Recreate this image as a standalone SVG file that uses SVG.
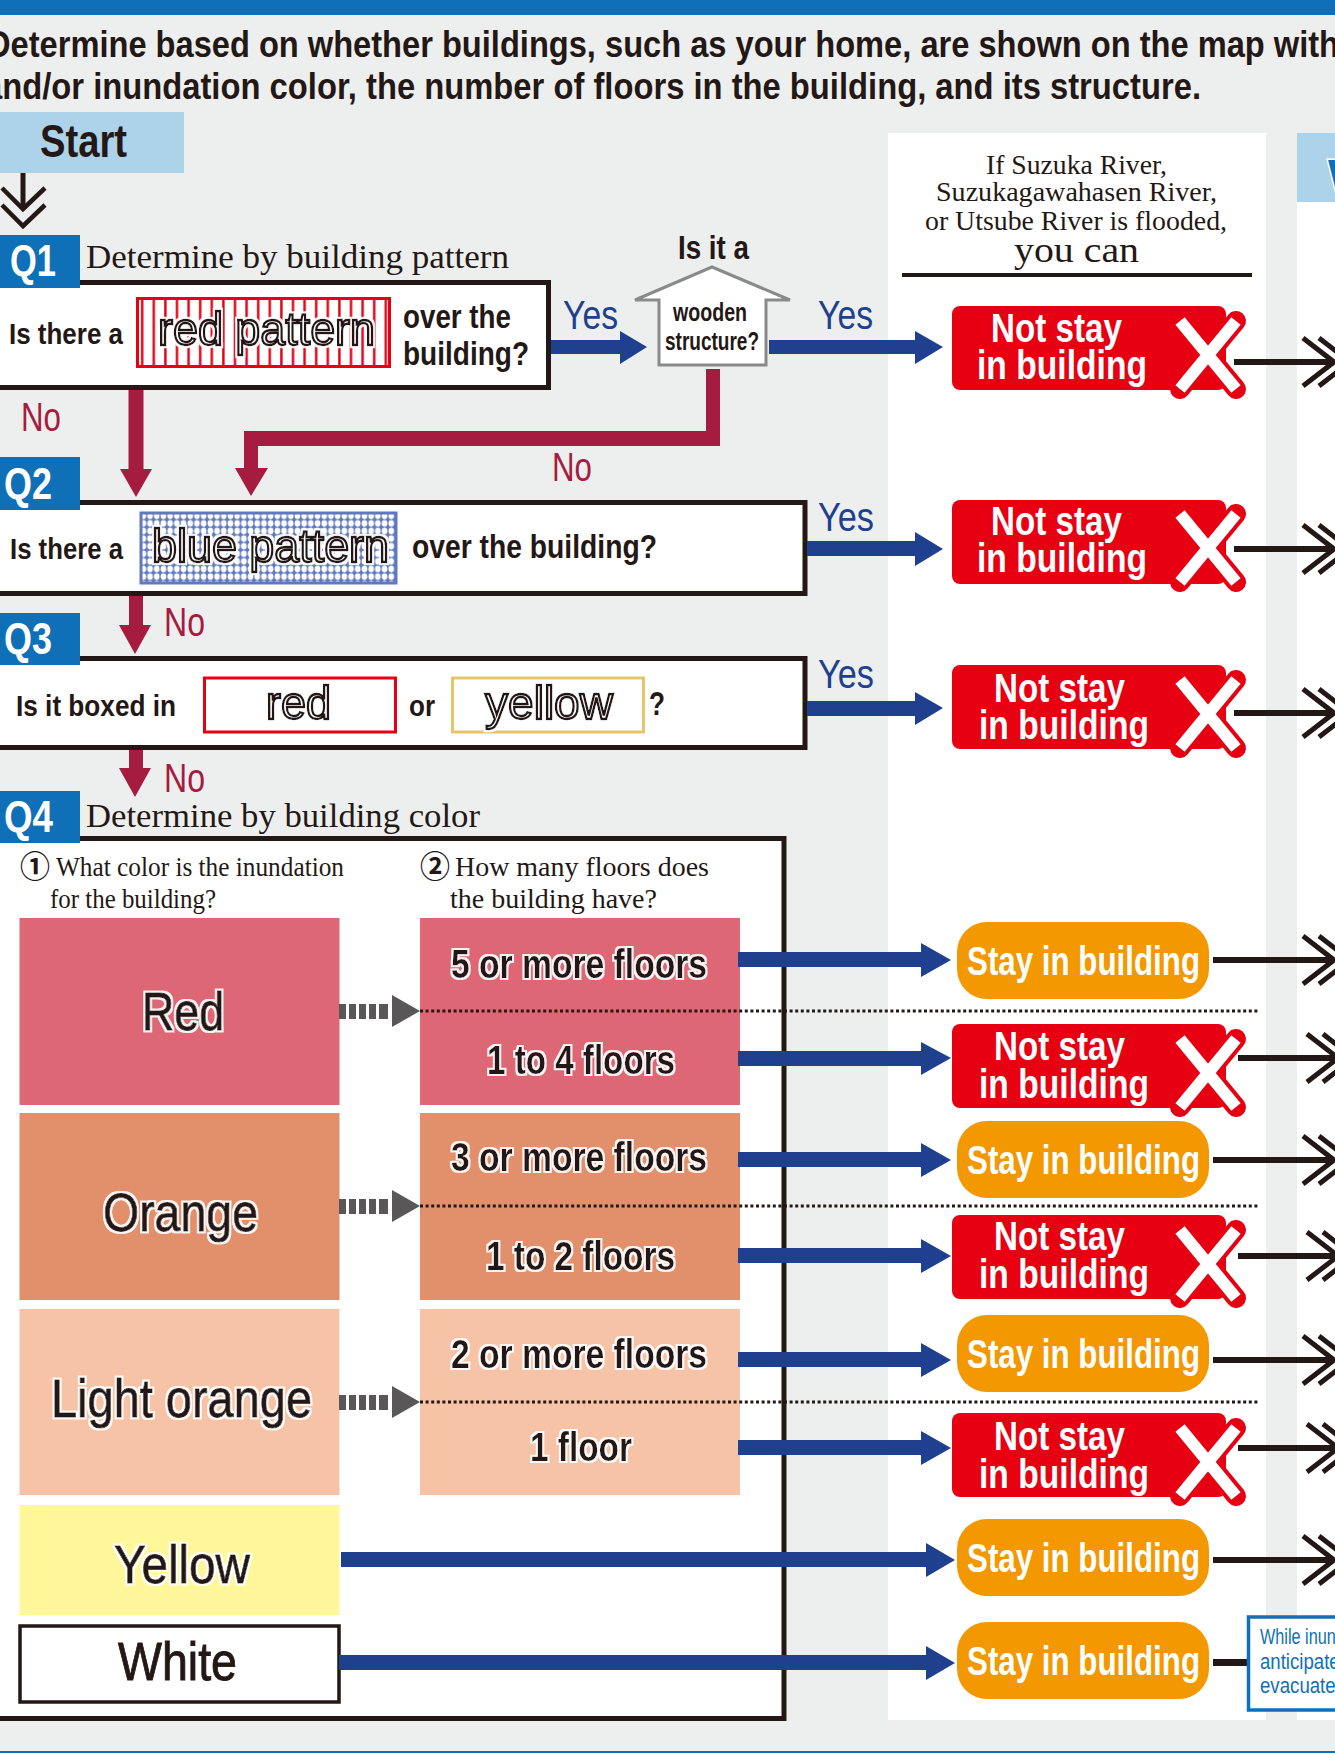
<svg xmlns="http://www.w3.org/2000/svg" xmlns:xlink="http://www.w3.org/1999/xlink" width="1335" height="1753" viewBox="0 0 1335 1753">
<style>
text{font-family:"Liberation Sans",Arial,sans-serif;fill:#231815}
.b{font-weight:bold}
.s{font-family:"Liberation Serif","Times New Roman",serif}
.q{font-weight:bold;fill:#fff;font-size:44px}
.box{fill:#fff;stroke:#231815;stroke-width:5}
.qb{fill:#0f70b7}
.yes{fill:#1f3f8f;font-size:41px}
.no{fill:#a51c40;font-size:41px}
.w{font-weight:bold;fill:#fff;font-size:41px}
.out{fill:#fff;stroke:#231815;stroke-width:2.4;font-size:47px;filter:url(#halo)}
.halo{fill:#231815;filter:url(#halo)}
.thick{stroke:#231815;stroke-width:.9}
.nb{fill:#e60012}
.pill{fill:#f39800}
.blue{fill:#1f3f8f}
.crim{fill:#a51c40}
.gr{fill:#595757}
.dot{stroke:#231815;stroke-width:3;stroke-dasharray:3 2.6;fill:none}
</style>
<defs>
<filter id="halo" x="-10%" y="-20%" width="120%" height="140%">
<feMorphology in="SourceAlpha" operator="dilate" radius="1.6" result="d"/>
<feGaussianBlur in="d" stdDeviation=".5" result="g"/>
<feFlood flood-color="#fff" flood-opacity=".9"/>
<feComposite in2="g" operator="in" result="h"/>
<feMerge><feMergeNode in="h"/><feMergeNode in="SourceGraphic"/></feMerge>
</filter>
<pattern id="redp" width="11.6" height="10" patternUnits="userSpaceOnUse" x="136"><rect width="11.6" height="10" fill="#fff"/><rect x="5" width="2.4" height="10" fill="#e60012"/></pattern>
<pattern id="bluep" width="6.7" height="7.6" patternUnits="userSpaceOnUse" x="140" y="512"><rect width="6.7" height="7.6" fill="#5f78c0"/><ellipse cx="3.35" cy="3.8" rx="2.8" ry="3.3" fill="#fff"/></pattern>
<g id="xm"><path d="M-28-34L28 34M28-34L-28 34" fill="none" stroke="#e60012" stroke-width="20" stroke-linejoin="round" stroke-linecap="round"/><path d="M-28-34L28 34M28-34L-28 34" fill="none" stroke="#fff" stroke-width="12"/></g>
<g id="chev"><rect y="-3" width="98" height="6" fill="#231815"/><path d="M69-24L100 0L69 24M85-24L116 0L85 24" fill="none" stroke="#231815" stroke-width="5"/></g>
</defs>
<rect width="1335" height="1753" fill="#edefee"/>
<rect width="1335" height="15" fill="#0f70b7"/>
<rect y="1751" width="1335" height="2" fill="#0f70b7"/>
<g id="intro">
<text class="b" x="-13" y="57" font-size="37" textLength="1352" lengthAdjust="spacingAndGlyphs">Determine based on whether buildings, such as your home, are shown on the map with</text>
<text class="b" x="-16" y="99" font-size="37" textLength="1217" lengthAdjust="spacingAndGlyphs">and/or inundation color, the number of floors in the building, and its structure.</text>
</g>
<g id="panels">
<rect x="888" y="133" width="378" height="1587" fill="#fff"/>
<rect x="1297" y="202" width="38" height="1518" fill="#fff"/>
<rect x="1297" y="133" width="38" height="69" fill="#acd3e9"/>
<text class="b" x="1328" y="192" font-size="46" style="fill:#0f70b7;stroke:#fff;stroke-width:3;paint-order:stroke">W</text>
<text class="s" x="986" y="174" font-size="28" textLength="181" lengthAdjust="spacingAndGlyphs">If Suzuka River,</text>
<text class="s" x="936" y="201" font-size="28" textLength="281" lengthAdjust="spacingAndGlyphs">Suzukagawahasen River,</text>
<text class="s" x="925" y="230" font-size="28" textLength="302" lengthAdjust="spacingAndGlyphs">or Utsube River is flooded,</text>
<text class="s" x="1014" y="262" font-size="36" textLength="125" lengthAdjust="spacingAndGlyphs">you can</text>
<rect x="902" y="273" width="350" height="4" fill="#231815"/>
</g>
<g id="start"><rect x="-1" y="112" width="185" height="61" fill="#acd3e9"/><text class="b" x="40" y="157" font-size="46" textLength="87" lengthAdjust="spacingAndGlyphs">Start</text></g>
<g id="q1">
<rect class="box" x="-6" y="282.500" width="554.500" height="105"/>
<rect class="qb" y="235" width="80" height="53"/>
<text class="q" x="10" y="276" textLength="46" lengthAdjust="spacingAndGlyphs">Q1</text>
<text class="s" x="86" y="268" font-size="33" textLength="423" lengthAdjust="spacingAndGlyphs">Determine by building pattern</text>
<text class="b" x="9" y="344" font-size="30" textLength="114" lengthAdjust="spacingAndGlyphs">Is there a</text>
<rect x="137.500" y="298.500" width="252" height="68" fill="url(#redp)" stroke="#e60012" stroke-width="3"/>
<text class="out" x="158" y="345" textLength="217" lengthAdjust="spacingAndGlyphs">red pattern</text>
<text class="b" x="403" y="328" font-size="33" textLength="108" lengthAdjust="spacingAndGlyphs">over the</text>
<text class="b" x="403" y="365" font-size="33" textLength="126" lengthAdjust="spacingAndGlyphs">building?</text>
</g>
<g id="wooden">
<path d="M712 267L790 300H766V365H659V300H635Z" fill="#fff" stroke="#8a8a8a" stroke-width="3"/>
<text class="b" x="678" y="259" font-size="33" textLength="71" lengthAdjust="spacingAndGlyphs">Is it a</text>
<text class="b" x="673" y="321" font-size="25" textLength="74" lengthAdjust="spacingAndGlyphs">wooden</text>
<text class="b" x="665" y="350" font-size="25" textLength="94" lengthAdjust="spacingAndGlyphs">structure?</text>
</g>
<g id="q2">
<rect class="box" x="-6" y="502.500" width="811" height="91"/>
<rect class="qb" y="457" width="80" height="53"/>
<text class="q" x="4" y="499" textLength="48" lengthAdjust="spacingAndGlyphs">Q2</text>
<text class="b" x="10" y="559" font-size="30" textLength="113" lengthAdjust="spacingAndGlyphs">Is there a</text>
<rect x="141" y="513" width="255" height="70" fill="url(#bluep)" stroke="#5f78c0" stroke-width="3"/>
<text class="out" x="152" y="562" textLength="237" lengthAdjust="spacingAndGlyphs">blue pattern</text>
<text class="b" x="412" y="558" font-size="33" textLength="245" lengthAdjust="spacingAndGlyphs">over the building?</text>
</g>
<g id="q3">
<rect class="box" x="-6" y="658.500" width="811" height="89"/>
<rect class="qb" y="613" width="80" height="52"/>
<text class="q" x="4" y="654" textLength="48" lengthAdjust="spacingAndGlyphs">Q3</text>
<text class="b" x="16" y="716" font-size="30" textLength="160" lengthAdjust="spacingAndGlyphs">Is it boxed in</text>
<rect x="204.500" y="678" width="191" height="54" fill="#fff" stroke="#e60012" stroke-width="3"/>
<text class="out" x="266" y="719" textLength="65" lengthAdjust="spacingAndGlyphs">red</text>
<text class="b" x="409" y="716" font-size="30" textLength="26" lengthAdjust="spacingAndGlyphs">or</text>
<rect x="452.500" y="678" width="191" height="54" fill="#fff" stroke="#e8c468" stroke-width="3"/>
<text class="out" x="485" y="719" textLength="128" lengthAdjust="spacingAndGlyphs">yellow</text>
<text class="b" x="649" y="715" font-size="33" textLength="16" lengthAdjust="spacingAndGlyphs">?</text>
</g>
<g id="q4">
<rect class="box" x="-6" y="838.500" width="790" height="880"/>
<rect class="qb" y="791" width="80" height="52"/>
<text class="q" x="4" y="832" textLength="49" lengthAdjust="spacingAndGlyphs">Q4</text>
<text class="s" x="86" y="827" font-size="33" textLength="394" lengthAdjust="spacingAndGlyphs">Determine by building color</text>
<text x="20" y="877" font-size="30" style="font-family:'Noto Sans CJK JP','DejaVu Sans',sans-serif;font-weight:bold">①</text>
<text class="s" x="56" y="876" font-size="27" textLength="288" lengthAdjust="spacingAndGlyphs">What color is the inundation</text>
<text class="s" x="50" y="908" font-size="27" textLength="166" lengthAdjust="spacingAndGlyphs">for the building?</text>
<text x="420" y="877" font-size="30" style="font-family:'Noto Sans CJK JP','DejaVu Sans',sans-serif;font-weight:bold">②</text>
<text class="s" x="455" y="876" font-size="27" textLength="254" lengthAdjust="spacingAndGlyphs">How many floors does</text>
<text class="s" x="450" y="908" font-size="27" textLength="207" lengthAdjust="spacingAndGlyphs">the building have?</text>
</g>
<g id="red">
<rect x="19.500" y="918" width="320" height="187" fill="#dd6775"/>
<rect x="420" y="918" width="320" height="187" fill="#dd6775"/>
<text class="halo thick" x="142" y="1030" font-size="54" textLength="82" lengthAdjust="spacingAndGlyphs">Red</text>
<text class="halo b" x="451" y="978" font-size="40" textLength="256" lengthAdjust="spacingAndGlyphs">5 or more floors</text>
<text class="halo b" x="487" y="1074" font-size="40" textLength="188" lengthAdjust="spacingAndGlyphs">1 to 4 floors</text>
</g>
<g id="orange">
<rect x="19.500" y="1113" width="320" height="187" fill="#e28f6c"/>
<rect x="420" y="1113" width="320" height="187" fill="#e28f6c"/>
<text class="halo thick" x="103" y="1231" font-size="54" textLength="155" lengthAdjust="spacingAndGlyphs">Orange</text>
<text class="halo b" x="451" y="1171" font-size="40" textLength="256" lengthAdjust="spacingAndGlyphs">3 or more floors</text>
<text class="halo b" x="486" y="1270" font-size="40" textLength="189" lengthAdjust="spacingAndGlyphs">1 to 2 floors</text>
</g>
<g id="lightorange">
<rect x="19.500" y="1309" width="320" height="186" fill="#f7c3a7"/>
<rect x="420" y="1309" width="320" height="186" fill="#f7c3a7"/>
<text class="halo thick" x="51" y="1417" font-size="54" textLength="261" lengthAdjust="spacingAndGlyphs">Light orange</text>
<text class="halo b" x="451" y="1368" font-size="40" textLength="256" lengthAdjust="spacingAndGlyphs">2 or more floors</text>
<text class="halo b" x="530" y="1461" font-size="40" textLength="102" lengthAdjust="spacingAndGlyphs">1 floor</text>
</g>
<g id="yellow"><rect x="19.500" y="1505" width="320" height="110" fill="#fff799"/><text class="halo thick" x="114" y="1583" font-size="54" textLength="136" lengthAdjust="spacingAndGlyphs">Yellow</text></g>
<g id="white"><rect x="20" y="1626" width="319" height="76" fill="#fff" stroke="#231815" stroke-width="3.500"/><text class="thick" x="118" y="1680" font-size="54" textLength="119" lengthAdjust="spacingAndGlyphs">White</text></g>
<g id="connectors">
<path fill="#231815" d="M20.500 173h5v36h-5z"/>
<path d="M2 188L23 209L45 188M2 205L23 226L45 205" fill="none" stroke="#231815" stroke-width="4.500"/>
<path class="blue" d="M551 340H620V331L647 347L620 364V354H551Z"/>
<path class="blue" d="M769 340H915V331L943 347L915 364V354H769Z"/>
<path class="crim" d="M128.500 390H143.500V469H152L136 497L120 469H128.500Z"/>
<path class="crim" d="M706 369H720V446H258V468H268L251 496L235 468H244V431H706Z"/>
<path class="blue" d="M807 541H915V532L943 549L915 566V556H807Z"/>
<path class="crim" d="M129 596H143V625H151L135 654L119 625H129Z"/>
<path class="blue" d="M807 701H915V692L943 708L915 725V716H807Z"/>
<path class="crim" d="M129 750H143V768H151L135 797L119 768H129Z"/>
<path class="blue" d="M738 952H921V943L951 960L921 977V967H738Z"/>
<path class="blue" d="M738 1051H921V1042L951 1058L921 1075V1066H738Z"/>
<path class="blue" d="M738 1152H921V1143L951 1160L921 1177V1167H738Z"/>
<path class="blue" d="M738 1248H921V1239L951 1256L921 1273V1263H738Z"/>
<path class="blue" d="M738 1352H921V1343L951 1360L921 1377V1367H738Z"/>
<path class="blue" d="M738 1440H921V1431L951 1448L921 1465V1455H738Z"/>
<path class="blue" d="M341 1552H926V1543L955 1560L926 1577V1567H341Z"/>
<path class="blue" d="M339 1655H926V1646L955 1663L926 1680V1670H339Z"/>
<use xlink:href="#chev" href="#chev" x="1234" y="362"/>
<use xlink:href="#chev" href="#chev" x="1234" y="549"/>
<use xlink:href="#chev" href="#chev" x="1234" y="713"/>
<use xlink:href="#chev" href="#chev" x="1234" y="960"/>
<use xlink:href="#chev" href="#chev" x="1238" y="1058"/>
<use xlink:href="#chev" href="#chev" x="1234" y="1160"/>
<use xlink:href="#chev" href="#chev" x="1238" y="1256"/>
<use xlink:href="#chev" href="#chev" x="1234" y="1360"/>
<use xlink:href="#chev" href="#chev" x="1238" y="1448"/>
<use xlink:href="#chev" href="#chev" x="1234" y="1560"/>
<path fill="#231815" d="M1213 957h25v6h-25zM1213 1157h25v6h-25zM1213 1357h25v6h-25zM1213 1557h25v6h-25zM1213 1659h36v7h-36z"/>
<text class="yes" x="563" y="329" textLength="55" lengthAdjust="spacingAndGlyphs">Yes</text>
<text class="yes" x="818" y="329" textLength="55" lengthAdjust="spacingAndGlyphs">Yes</text>
<text class="yes" x="818" y="531" textLength="56" lengthAdjust="spacingAndGlyphs">Yes</text>
<text class="yes" x="818" y="688" textLength="56" lengthAdjust="spacingAndGlyphs">Yes</text>
<text class="no" x="21" y="431" textLength="40" lengthAdjust="spacingAndGlyphs">No</text>
<text class="no" x="552" y="481" textLength="40" lengthAdjust="spacingAndGlyphs">No</text>
<text class="no" x="164" y="636" textLength="41" lengthAdjust="spacingAndGlyphs">No</text>
<text class="no" x="164" y="792" textLength="41" lengthAdjust="spacingAndGlyphs">No</text>
</g>
<g id="dashed">
<path class="dot" d="M420 1011H1260M420 1206H1260M420 1402H1260"/>
<path class="gr" d="M392 995L420 1011L392 1027ZM339 1004h7v15h-7zM349 1004h7v15h-7zM359 1004h7v15h-7zM369 1004h7v15h-7zM379 1004h9v15h-9z"/>
<path class="gr" d="M392 1190L420 1206L392 1222ZM339 1199h7v15h-7zM349 1199h7v15h-7zM359 1199h7v15h-7zM369 1199h7v15h-7zM379 1199h9v15h-9z"/>
<path class="gr" d="M392 1386L420 1402L392 1418ZM339 1395h7v15h-7zM349 1395h7v15h-7zM359 1395h7v15h-7zM369 1395h7v15h-7zM379 1395h9v15h-9z"/>
</g>
<g id="ns1"><rect class="nb" x="952" y="306" width="274" height="84" rx="8"/><use xlink:href="#xm" href="#xm" x="1208" y="355"/><text class="w" x="991" y="342" textLength="131" lengthAdjust="spacingAndGlyphs">Not stay</text><text class="w" x="977" y="379" textLength="170" lengthAdjust="spacingAndGlyphs">in building</text></g>
<g id="ns2"><rect class="nb" x="952" y="500" width="274" height="84" rx="8"/><use xlink:href="#xm" href="#xm" x="1208" y="548"/><text class="w" x="991" y="535" textLength="131" lengthAdjust="spacingAndGlyphs">Not stay</text><text class="w" x="977" y="572" textLength="170" lengthAdjust="spacingAndGlyphs">in building</text></g>
<g id="ns3"><rect class="nb" x="952" y="665" width="274" height="84" rx="8"/><use xlink:href="#xm" href="#xm" x="1208" y="714"/><text class="w" x="994" y="702" textLength="131" lengthAdjust="spacingAndGlyphs">Not stay</text><text class="w" x="979" y="739" textLength="170" lengthAdjust="spacingAndGlyphs">in building</text></g>
<g id="ns4"><rect class="nb" x="952" y="1024" width="274" height="84" rx="8"/><use xlink:href="#xm" href="#xm" x="1208" y="1073"/><text class="w" x="994" y="1060" textLength="131" lengthAdjust="spacingAndGlyphs">Not stay</text><text class="w" x="979" y="1098" textLength="170" lengthAdjust="spacingAndGlyphs">in building</text></g>
<g id="ns5"><rect class="nb" x="952" y="1215" width="274" height="84" rx="8"/><use xlink:href="#xm" href="#xm" x="1208" y="1264"/><text class="w" x="994" y="1250" textLength="131" lengthAdjust="spacingAndGlyphs">Not stay</text><text class="w" x="979" y="1288" textLength="170" lengthAdjust="spacingAndGlyphs">in building</text></g>
<g id="ns6"><rect class="nb" x="952" y="1413" width="274" height="84" rx="8"/><use xlink:href="#xm" href="#xm" x="1208" y="1462"/><text class="w" x="994" y="1450" textLength="131" lengthAdjust="spacingAndGlyphs">Not stay</text><text class="w" x="979" y="1488" textLength="170" lengthAdjust="spacingAndGlyphs">in building</text></g>
<g id="st1"><rect class="pill" x="957" y="922" width="252" height="77" rx="30"/><text class="w" x="967" y="975" textLength="233" lengthAdjust="spacingAndGlyphs">Stay in building</text></g>
<g id="st2"><rect class="pill" x="957" y="1121" width="252" height="77" rx="30"/><text class="w" x="967" y="1174" textLength="233" lengthAdjust="spacingAndGlyphs">Stay in building</text></g>
<g id="st3"><rect class="pill" x="957" y="1315" width="252" height="77" rx="30"/><text class="w" x="967" y="1368" textLength="233" lengthAdjust="spacingAndGlyphs">Stay in building</text></g>
<g id="st4"><rect class="pill" x="957" y="1519" width="252" height="77" rx="30"/><text class="w" x="967" y="1572" textLength="233" lengthAdjust="spacingAndGlyphs">Stay in building</text></g>
<g id="st5"><rect class="pill" x="957" y="1622" width="252" height="77" rx="30"/><text class="w" x="967" y="1675" textLength="233" lengthAdjust="spacingAndGlyphs">Stay in building</text></g>
<g id="note">
<rect x="1248.500" y="1617" width="95" height="93" fill="#fff" stroke="#0f70b7" stroke-width="3.500"/>
<text x="1260" y="1644" font-size="22" textLength="120" lengthAdjust="spacingAndGlyphs" style="fill:#0f70b7">While inundation</text>
<text x="1260" y="1669" font-size="22" textLength="90" lengthAdjust="spacingAndGlyphs" style="fill:#0f70b7">anticipated</text>
<text x="1260" y="1693" font-size="22" textLength="85" lengthAdjust="spacingAndGlyphs" style="fill:#0f70b7">evacuate i</text>
</g>
</svg>
